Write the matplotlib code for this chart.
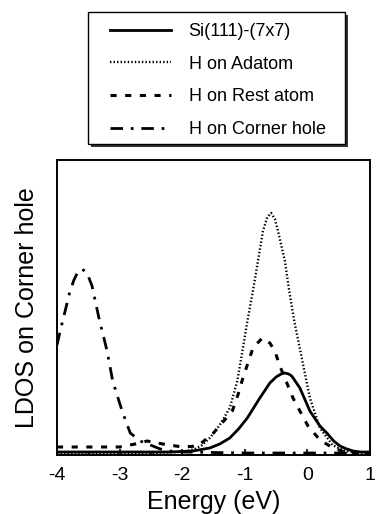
import matplotlib
matplotlib.use("Agg")
import matplotlib.pyplot as plt
from matplotlib.patches import Rectangle

plt.rcParams['font.family'] = ['Liberation Sans', 'DejaVu Sans']
plt.rcParams['axes.unicode_minus'] = False

W, H = 376, 514

# Si(111)-(7x7) clean surface
e_clean = [-4.0, -3.0, -2.2, -1.83, -1.56, -1.40, -1.24, -1.10, -0.96, -0.76, -0.60, -0.50, -0.42,
           -0.36, -0.30, -0.25, -0.12, 0.04, 0.20, 0.31, 0.42, 0.52, 0.63, 0.73, 0.85, 1.0]
ldos_clean = [0.01, 0.01, 0.01, 0.02, 0.05, 0.09, 0.15, 0.24, 0.35, 0.55, 0.70, 0.76, 0.79,
              0.80, 0.79, 0.77, 0.65, 0.42, 0.27, 0.20, 0.12, 0.07, 0.04, 0.02, 0.01, 0.01]

# H on adatom
e_ad = [-4.0, -2.5, -2.0, -1.80, -1.68, -1.56, -1.40, -1.24, -1.12, -1.03, -0.95, -0.87, -0.79,
        -0.71, -0.64, -0.58, -0.52, -0.47, -0.36, -0.29, -0.21, -0.09, 0.04, 0.20, 0.40, 0.60, 0.80, 1.0]
ldos_ad = [0.0, 0.0, 0.01, 0.04, 0.08, 0.15, 0.28, 0.45, 0.72, 1.05, 1.35, 1.62, 1.92,
           2.22, 2.36, 2.40, 2.34, 2.22, 1.92, 1.62, 1.32, 0.95, 0.55, 0.25, 0.08, 0.02, 0.0, 0.0]

# H on rest atom
e_rest = [-4.0, -3.5, -3.0, -2.75, -2.56, -2.31, -2.0, -1.75, -1.50, -1.20, -1.11, -1.04, -0.95,
          -0.87, -0.72, -0.60, -0.52, -0.44, -0.23, -0.12, 0.01, 0.20, 0.41, 0.60, 0.80, 1.0]
ldos_rest = [0.06, 0.06, 0.06, 0.09, 0.12, 0.09, 0.06, 0.07, 0.20, 0.42, 0.58, 0.73, 0.90,
             1.05, 1.15, 1.10, 1.02, 0.87, 0.55, 0.42, 0.27, 0.13, 0.05, 0.01, 0.0, 0.0]

# H on corner hole
e_ch = [-4.0, -3.93, -3.87, -3.80, -3.73, -3.66, -3.60, -3.52, -3.44, -3.33, -3.20, -3.11, -2.96,
        -2.83, -2.67, -2.51, -2.35, -2.2, -2.0, -1.0, 1.0]
ldos_ch = [1.08, 1.27, 1.42, 1.60, 1.73, 1.82, 1.84, 1.80, 1.67, 1.35, 1.02, 0.72, 0.42,
           0.20, 0.12, 0.08, 0.04, 0.02, 0.01, 0.0, 0.0]

series = [
    (e_clean, ldos_clean, 'Si(111)-(7x7)', dict(linestyle='-', linewidth=2.0)),
    (e_ad, ldos_ad, 'H on Adatom', dict(linestyle=(0, (0.6, 0.9)), linewidth=1.7)),
    (e_rest, ldos_rest, 'H on Rest atom', dict(linestyle=(0, (2.0, 2.8)), linewidth=2.2)),
    (e_ch, ldos_ch, 'H on Corner hole', dict(linestyle=(0, (4.5, 2.8, 1.0, 2.8)), linewidth=2.0)),
]

fig = plt.figure(figsize=(W/100, H/100), dpi=100)
ax = fig.add_axes([57/W, 1-455/H, 313/W, 295/H])

handles = []
for e, v, lab, style in series:
    h, = ax.plot(e, v, color='black', label=lab, **style)
    handles.append(h)

ax.set_xlim(-4, 1)
ax.set_ylim(-0.02, 2.93)
ax.set_xticks([-4, -3, -2, -1, 0, 1])
ax.set_xticks([-3.5, -2.5, -1.5, -0.5, 0.5], minor=True)
ax.set_yticks([])
ax.tick_params(axis='x', direction='in', length=4, width=1.2, labelsize=14, pad=9)
ax.tick_params(axis='x', which='minor', direction='in', length=2, width=1)
for s in ax.spines.values():
    s.set_linewidth(1.4)
ax.set_xlabel('Energy (eV)', fontsize=18, labelpad=4)
ax.set_ylabel('LDOS on Corner hole', fontsize=18, labelpad=13)

# legend box with drop shadow, drawn in figure pixels
fig.patches.append(Rectangle((91/W, 1-147/H), 257/W, 132/H, transform=fig.transFigure,
                             facecolor='#333333', edgecolor='none', zorder=1))
fig.patches.append(Rectangle((88/W, 1-144/H), 257/W, 132/H, transform=fig.transFigure,
                             facecolor='white', edgecolor='black', linewidth=1.0, zorder=2))

leg = fig.legend(handles=handles, loc='upper left', bbox_to_anchor=(110/W, 1-23/H),
                 fontsize=13, handlelength=3.4, handletextpad=0.95, labelspacing=0.87,
                 borderpad=0, borderaxespad=0, frameon=False)
leg.set_zorder(3)

fig.savefig('out.png', dpi=100)
